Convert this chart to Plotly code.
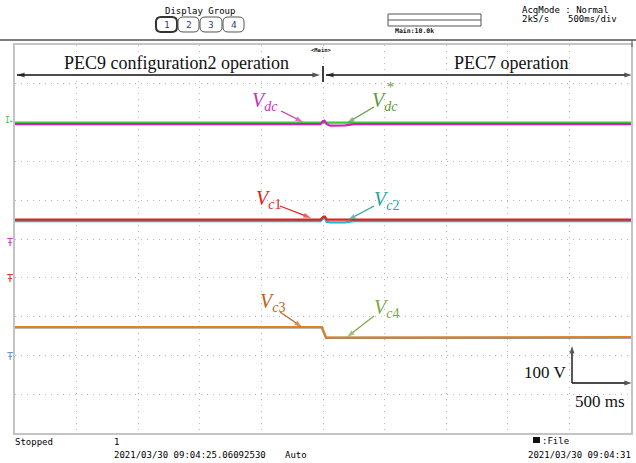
import plotly.graph_objects as go

# ---------------- data (time in s, levels in screen divisions, 100 V/div) ----------------
t_vdc = [-2.5, -0.02, 0.0, 0.012, 0.03, 0.06, 0.18, 0.25, 2.5]
v_vdc = [7.96, 7.96, 8.04, 8.05, 7.96, 7.92, 7.93, 7.96, 7.96]

t_vdc_ref = [-2.5, 2.5]
v_vdc_ref = [8.0, 8.0]

t_vc1 = [-2.5, -0.02, 0.005, 0.015, 0.03, 2.5]
v_vc1 = [5.50, 5.50, 5.58, 5.58, 5.50, 5.50]

t_vc2 = [-2.5, -0.02, 0.005, 0.015, 0.03, 0.06, 0.18, 0.25, 2.5]
v_vc2 = [5.46, 5.46, 5.54, 5.54, 5.44, 5.43, 5.43, 5.46, 5.46]

t_vc3 = [-2.5, -0.01, 0.025, 2.5]
v_vc3 = [2.73, 2.73, 2.46, 2.47]

t_vc4 = [-2.5, -0.01, 0.025, 2.5]
v_vc4 = [2.72, 2.72, 2.45, 2.455]

ground_markers = [("#d040c0", 4.92), ("#e03030", 3.97), ("#5a9ad0", 1.96)]

W, H = 636, 463
X0, X1, Y0, Y1 = 15, 631, 45, 433  # plot box in pixels


def PX(x):
    return x / W


def PY(y):
    return 1 - y / H


def DT(x):  # pixel x -> time
    return (x - (X0 + X1) / 2) / ((X1 - X0) / 5.0)


def DV(y):  # pixel y -> divisions
    return (Y1 - y) / ((Y1 - Y0) / 10.0)


fig = go.Figure()
traces = [
    (t_vdc_ref, v_vdc_ref, "#3ec43e", "Vdc*"),
    (t_vdc, v_vdc, "#d020c0", "Vdc"),
    (t_vc2, v_vc2, "#20b8c8", "Vc2"),
    (t_vc1, v_vc1, "#dd2020", "Vc1"),
    (t_vc4, v_vc4, "#5a9ad0", "Vc4"),
    (t_vc3, v_vc3, "#e08020", "Vc3"),
]
for tx, vy, col, nm in traces:
    fig.add_trace(go.Scatter(x=tx, y=vy, mode="lines", name=nm,
                             line=dict(color=col, width=2.2), showlegend=False))

mono = "DejaVu Sans Mono"
serif = "Liberation Serif"
ann = []
shapes = []


def ptext(x, y, s, size=9, color="#111", xanchor="left", font=mono, yanchor="middle"):
    ann.append(dict(x=PX(x), y=PY(y), xref="paper", yref="paper", text=s, showarrow=False,
                    xanchor=xanchor, yanchor=yanchor, font=dict(family=font, size=size, color=color)))


def arrow(x0, y0, x1, y1, color, width=1.2, both=False, head=8):
    xs = [DT(x0), DT(x1)]
    ys = [DV(y0), DV(y1)]
    fig.add_trace(go.Scatter(x=xs, y=ys, mode="lines+markers", showlegend=False,
                             hoverinfo="skip", line=dict(color=color, width=width),
                             marker=dict(symbol="arrow", angleref="previous",
                                         size=[0, head], color=color, line=dict(width=0))))
    if both:
        fig.add_trace(go.Scatter(x=xs[::-1], y=ys[::-1], mode="markers", showlegend=False,
                                 hoverinfo="skip",
                                 marker=dict(symbol="arrow", angleref="previous",
                                             size=[0, head], color=color, line=dict(width=0))))


def rrect(x0, y0, x1, y1, r, width, color):
    P = lambda x, y: f"{PX(x):.5f},{PY(y):.5f}"
    path = (f"M {P(x0 + r, y0)} L {P(x1 - r, y0)} Q {P(x1, y0)} {P(x1, y0 + r)} "
            f"L {P(x1, y1 - r)} Q {P(x1, y1)} {P(x1 - r, y1)} L {P(x0 + r, y1)} "
            f"Q {P(x0, y1)} {P(x0, y1 - r)} L {P(x0, y0 + r)} Q {P(x0, y0)} {P(x0 + r, y0)} Z")
    shapes.append(dict(type="path", path=path, xref="paper", yref="paper",
                       line=dict(color=color, width=width)))


# ---- header ----
ptext(200, 11, "Display Group", size=9, xanchor="center", color="#000")
btns = [(156, 177), (178, 199), (200, 222), (223, 244)]
for i, (a, b) in enumerate(btns):
    rrect(a, 17, b, 32, 5, 2 if i == 0 else 1, "#333" if i == 0 else "#555")
    ptext((a + b) / 2, 24.5, str(i + 1), size=9.5, color="#1f3f8f", xanchor="center")

shapes.append(dict(type="rect", xref="paper", yref="paper", x0=PX(388), x1=PX(481),
                   y0=PY(14), y1=PY(26), line=dict(color="#555", width=1)))
shapes.append(dict(type="line", xref="paper", yref="paper", x0=PX(388), x1=PX(481),
                   y0=PY(20), y1=PY(20), line=dict(color="#555", width=1)))
ptext(393, 31, "<b>Main:10.0k</b>", size=6.5)
ptext(520, 10, "AcqMode : Normal", size=9, color="#000")
ptext(520, 19, "2kS/s", size=9, color="#000")
ptext(566, 19, "500ms/div", size=9, color="#000")

shapes.append(dict(type="line", xref="paper", yref="paper", x0=0, x1=1,
                   y0=PY(40), y1=PY(40), line=dict(color="#505050", width=1.5)))
shapes.append(dict(type="line", xref="paper", yref="paper", x0=PX(632), x1=PX(632),
                   y0=PY(40), y1=PY(47), line=dict(color="#505050", width=1)))
ptext(321, 50, "<b>&lt;Main&gt;</b>", size=5.5, xanchor="center")

# ---- footer ----
ptext(13, 442, "Stopped", size=9, color="#000")
ptext(112, 442, "1", size=9, color="#000")
ptext(112, 455, "2021/03/30 09:04:25.06092530", size=9, color="#000")
ptext(283, 455, "Auto", size=9, color="#000")
shapes.append(dict(type="rect", xref="paper", yref="paper", x0=PX(533), x1=PX(540),
                   y0=PY(443), y1=PY(437), fillcolor="#111", line=dict(width=0)))
ptext(540, 441, ":File", size=9, color="#000")
ptext(633, 455, "2021/03/30 09:04:31", size=9, color="#000", xanchor="right")

# ---- channel markers ----
ptext(9, 121, "I<span style='font-size:6px'>▸</span>", size=8, color="#3ec43e", xanchor="center")
for col, lvl in ground_markers:
    ann.append(dict(x=PX(10), y=lvl, xref="paper", yref="y", text="Ŧ", showarrow=False,
                    xanchor="center", yanchor="middle", font=dict(family=mono, size=10, color=col)))

# ---- operation arrows ----
ptext(176, 63, "PEC9 configuration2 operation", size=18, font=serif, xanchor="center")
ptext(511, 63, "PEC7 operation", size=18, font=serif, xanchor="center")
arrow(17, 75, 320, 75, "#111", width=1.4, both=True, head=8)
arrow(326, 75, 632, 75, "#111", width=1.4, both=True, head=8)
shapes.append(dict(type="line", xref="x", yref="y", x0=0, x1=0, y0=DV(66), y1=DV(82),
                   line=dict(color="#111", width=1.6)))

# ---- signal labels ----
lbl = [
    (265, 101, "#c832b4", "<i>V</i><sub><i>dc</i></sub>", (281, 111, 303, 122)),
    (385, 101, "#5c9a3c", "<i>V</i><sub><i>dc</i></sub>", (374, 107, 347, 123)),
    (268, 199, "#e02020", "<i>V</i><sub><i>c</i>1</sub>", (280, 206, 311, 218)),
    (386, 200, "#2aa0a0", "<i>V</i><sub><i>c</i>2</sub>", (374, 206, 348, 220)),
    (272, 302, "#c0601a", "<i>V</i><sub><i>c</i>3</sub>", (280, 312, 302, 327)),
    (386, 308, "#7aa840", "<i>V</i><sub><i>c</i>4</sub>", (374, 316, 347, 337)),
]
for x, y, col, s, (ax0, ay0, ax1, ay1) in lbl:
    ptext(x, y, s, size=20, color=col, xanchor="center", font=serif)
    arrow(ax0, ay0, ax1, ay1, col, width=1.2, head=8)
ptext(390, 87, "*", size=14, color="#5c9a3c", xanchor="center", font=serif)

# ---- scale bar ----
arrow(572, 383, 572, 346, "#111", width=1.4, head=8)
arrow(572, 383, 632, 383, "#111", width=1.4, head=8)
ptext(568, 372, "100 V", size=17, font=serif, xanchor="right")
ptext(573, 401, "500 ms", size=17, font=serif)

fig.update_layout(
    width=W, height=H, margin=dict(l=0, r=0, t=0, b=0),
    paper_bgcolor="white", plot_bgcolor="white",
    xaxis=dict(domain=[PX(X0), PX(X1)], range=[-2.5, 2.5], dtick=0.5, tick0=0,
               showticklabels=False, ticks="", showgrid=True, gridcolor="#b8b8b8",
               griddash="1px,5px", gridwidth=1, zeroline=False,
               showline=True, linecolor="#c4c4c4", linewidth=1.5, mirror=True),
    yaxis=dict(domain=[PY(Y1), PY(Y0)], range=[0, 10], dtick=1, tick0=0,
               showticklabels=False, ticks="", showgrid=True, gridcolor="#b8b8b8",
               griddash="1px,5px", gridwidth=1, zeroline=False,
               showline=True, linecolor="#c4c4c4", linewidth=1.5, mirror=True),
    annotations=ann, shapes=shapes,
)
fig.write_html("out.html")
